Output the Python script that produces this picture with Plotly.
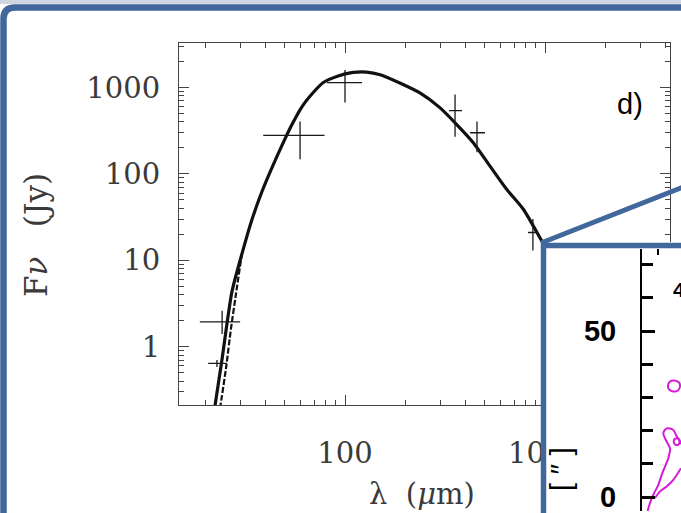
import plotly.graph_objects as go

W, H = 681, 513

# ---- SED photometry (wavelength in micron, flux in Jy) ----
lam_obs = [24.3, 22.9, 59.6, 100, 355, 457, 870]
flux_obs = [1.94, 0.64, 279, 1140, 540, 300, 21]
lam_lo = [18.8, 20.7, 39, 81.3, 331, 422, 822]
lam_hi = [29.9, 25.7, 79, 121.7, 385, 501, 923]
flux_lo = [1.4, 0.58, 148, 670, 270, 178, 13]
flux_hi = [2.6, 0.70, 405, 1600, 830, 405, 30]

# ---- model SEDs ----
lam_model_a = [21.9, 24.3, 27.2, 30.5, 34.3, 38.5, 43.2, 48.4, 54.3, 61, 69.2, 77.6,
               90.9, 110, 128, 150, 188, 237, 299, 362, 438, 531, 643, 779, 963, 1200]
flux_model_a = [0.148, 0.727, 4.31, 11.8, 29.9, 63, 119, 214, 373, 603, 871, 1138,
                1346, 1497, 1513, 1409, 1130, 867, 582, 373, 230, 123, 66.4, 39, 16.8, 7]
lam_model_b = [23.7, 25.4, 26.9, 28.5, 30.5]
flux_model_b = [0.19, 0.56, 1.61, 4.09, 11.8]

# ---- axis tick values ----
x_minor_ticks = [20, 30, 40, 50, 60, 70, 80, 90, 200, 300, 400, 500, 600, 700, 800, 900,
                 2000, 3000, 4000]
y_minor_ticks = [0.3, 0.4, 0.5, 0.6, 0.7, 0.8, 0.9, 2, 3, 4, 5, 6, 7, 8, 9,
                 20, 30, 40, 50, 60, 70, 80, 90, 200, 300, 400, 500, 600, 700, 800, 900,
                 2000, 3000]
x_major_ticks = [100, 1000]
y_major_ticks = [1, 10, 100, 1000]

# ---- inset map contours (offsets in arcsec) ----
cont1_x = [11.7, 11.4, 10.4, 9.4, 7.4, 6.4, 7.4, 8.4, 7.9, 6.9, 5.9, 4.9, 3.4, 2.4, 1.7]
cont1_y = [15.9, 16.8, 18.3, 20.2, 20.7, 19.2, 16.7, 14.7, 11.7, 9.2, 6.7, 3.7, 0.7, -1.8, -4.2]
cont2_x = [11.7, 9.4, 7.4, 5.4, 3.9]
cont2_y = [8.7, 5.2, 3.2, 1.7, -0.3]
loop1_x = [7.8, 8.4, 9.6, 11.1, 11.4, 10.8, 9.3, 8.1, 7.8]
loop1_y = [33.6, 34.8, 35.1, 34.5, 33.3, 32.1, 31.8, 32.4, 33.6]
loop2_x = [9.5, 10.0, 10.9, 11.3, 10.9, 10.0, 9.5]
loop2_y = [16.7, 17.6, 17.6, 16.7, 15.8, 15.8, 16.7]
inset_ticks = [0, 50]
inset_minor = [10, 20, 30, 40, 60, 70]


def px(x):
    return x / W


def py(y):
    return 1 - y / H


fig = go.Figure()

# model curves
fig.add_trace(go.Scatter(x=lam_model_a, y=flux_model_a, mode="lines",
                         line=dict(color="#111111", width=3.2, shape="spline", smoothing=0.7),
                         xaxis="x", yaxis="y"))
fig.add_trace(go.Scatter(x=lam_model_b, y=flux_model_b, mode="lines",
                         line=dict(color="#111111", width=2.2, dash="6px,2px",
                                   shape="spline", smoothing=0.6),
                         xaxis="x", yaxis="y"))
# photometry crosses
fig.add_trace(go.Scatter(
    x=lam_obs, y=flux_obs, mode="markers", marker=dict(size=1, color="rgba(0,0,0,0)"),
    error_x=dict(type="data", symmetric=False,
                 array=[h - v for h, v in zip(lam_hi, lam_obs)],
                 arrayminus=[v - l for l, v in zip(lam_lo, lam_obs)],
                 width=0, thickness=1.3, color="#1a1a1a"),
    error_y=dict(type="data", symmetric=False,
                 array=[h - v for h, v in zip(flux_hi, flux_obs)],
                 arrayminus=[v - l for l, v in zip(flux_lo, flux_obs)],
                 width=0, thickness=1.3, color="#1a1a1a"),
    xaxis="x", yaxis="y"))

# cover subplot (white background of the inset panel)
fig.add_trace(go.Scatter(x=[0], y=[0], mode="markers", marker=dict(size=1, opacity=0),
                         xaxis="x2", yaxis="y2"))

# inset contours
mag = "#d81ad8"
for cx, cy in [(cont1_x, cont1_y), (cont2_x, cont2_y), (loop1_x, loop1_y), (loop2_x, loop2_y)]:
    fig.add_trace(go.Scatter(x=cx, y=cy, mode="lines",
                             line=dict(color=mag, width=2, shape="spline", smoothing=0.8),
                             xaxis="x3", yaxis="y3"))

tickfont = dict(family="DejaVu Serif", size=29, color="#3a3a3a")


def minor(vals):
    return dict(ticks="inside", ticklen=5, tickwidth=1, tickcolor="#444",
                tickmode="array", tickvals=vals)


fig.update_layout(
    width=W, height=H, margin=dict(l=0, r=0, t=0, b=0),
    paper_bgcolor="white", plot_bgcolor="white", showlegend=False,
    xaxis=dict(type="log", range=[1.17, 3.625], domain=[px(179), px(670)],
               anchor="y", showline=True, linecolor="#444", linewidth=1.2, mirror="allticks",
               ticks="inside", ticklen=10, tickwidth=1, tickcolor="#444",
               tickmode="array", tickvals=x_major_ticks,
               ticktext=[str(v) for v in x_major_ticks],
               showgrid=False, zeroline=False,
               tickfont=tickfont, ticklabelstandoff=22, minor=minor(x_minor_ticks)),
    yaxis=dict(type="log", range=[-0.68, 3.518], domain=[py(407), py(43)],
               anchor="x", showline=True, linecolor="#444", linewidth=1.2, mirror="allticks",
               ticks="inside", ticklen=10, tickwidth=1, tickcolor="#444",
               tickmode="array", tickvals=y_major_ticks,
               ticktext=[str(v) for v in y_major_ticks],
               showgrid=False, zeroline=False,
               tickfont=tickfont, ticklabelstandoff=12, minor=minor(y_minor_ticks)),
    xaxis2=dict(domain=[px(541), 1], anchor="y2", range=[0, 1], visible=False,
                showgrid=False, zeroline=False),
    yaxis2=dict(domain=[0, py(243)], anchor="x2", range=[0, 1], visible=False,
                showgrid=False, zeroline=False),
    xaxis3=dict(domain=[px(642), 1], anchor="y3", range=[0, 11.7], side="top",
                showline=False, showgrid=False, zeroline=False, showticklabels=False,
                ticks="inside", ticklen=6, tickwidth=2, tickcolor="black", tickvals=[4.8]),
    yaxis3=dict(domain=[0, py(250)], anchor="x3", range=[-4.2, 74.7],
                showline=True, linecolor="black", linewidth=2, showgrid=False, zeroline=False,
                ticks="inside", ticklen=13, tickwidth=2.5, tickcolor="black",
                tickmode="array", tickvals=inset_ticks,
                ticktext=[str(v) for v in inset_ticks],
                tickfont=dict(family="Liberation Sans", size=29, color="black", weight="bold"),
                ticklabelstandoff=18, ticklabeloverflow="allow",
                minor=dict(ticks="inside", ticklen=11, tickwidth=2.5, tickcolor="black",
                           tickmode="array", tickvals=inset_minor)),
)

blue = "#41679d"
shapes = [
    dict(type="rect", xref="paper", yref="paper", x0=0, x1=1, y0=py(4), y1=1,
         fillcolor="#cfd6e0", line=dict(width=0), layer="above"),
    dict(type="path", xref="paper", yref="paper",
         path=f"M {px(3.5)},{py(520)} L {px(3.5)},{py(19)} Q {px(3.5)},{py(7.5)} {px(15)},{py(7.5)} L {px(690)},{py(7.5)}",
         line=dict(color=blue, width=6.5), layer="above"),
    dict(type="line", xref="paper", yref="paper", x0=px(543.5), x1=px(543.5), y0=py(243), y1=py(520),
         line=dict(color=blue, width=5.5), layer="above"),
    dict(type="line", xref="paper", yref="paper", x0=px(541), x1=px(690), y0=py(246.5), y1=py(246.5),
         line=dict(color=blue, width=5.5), layer="above"),
    dict(type="line", xref="paper", yref="paper", x0=px(541), x1=px(685), y0=py(244), y1=py(187),
         line=dict(color=blue, width=5), layer="above"),
]
fig.update_layout(shapes=shapes)

ann = [
    dict(text="\u03bb\u00a0\u00a0(<i>\u03bc</i>m)", x=px(422), y=py(496),
         font=dict(family="DejaVu Serif", size=29, color="#3a3a3a")),
    dict(text="F<i>\u03bd</i>\u00a0\u00a0\u00a0(Jy)", x=px(36), y=py(236), textangle=-90,
         font=dict(family="DejaVu Serif", size=31, color="#3a3a3a")),
    dict(text="d)", x=px(630), y=py(104),
         font=dict(family="Liberation Sans", size=29, color="black")),
    dict(text="4", x=px(671), y=py(291), xanchor="left",
         font=dict(family="Liberation Sans", size=21, color="black", weight="bold")),
    dict(text="[\u00a0\u2033\u00a0]", x=px(560), y=py(471), textangle=-90,
         font=dict(family="Liberation Sans", size=30, color="black")),
]
for a in ann:
    a.setdefault("xref", "paper")
    a.setdefault("yref", "paper")
    a.setdefault("xanchor", "center")
    a.setdefault("yanchor", "middle")
    a["showarrow"] = False
fig.update_layout(annotations=ann)

fig.write_html("out.html")
